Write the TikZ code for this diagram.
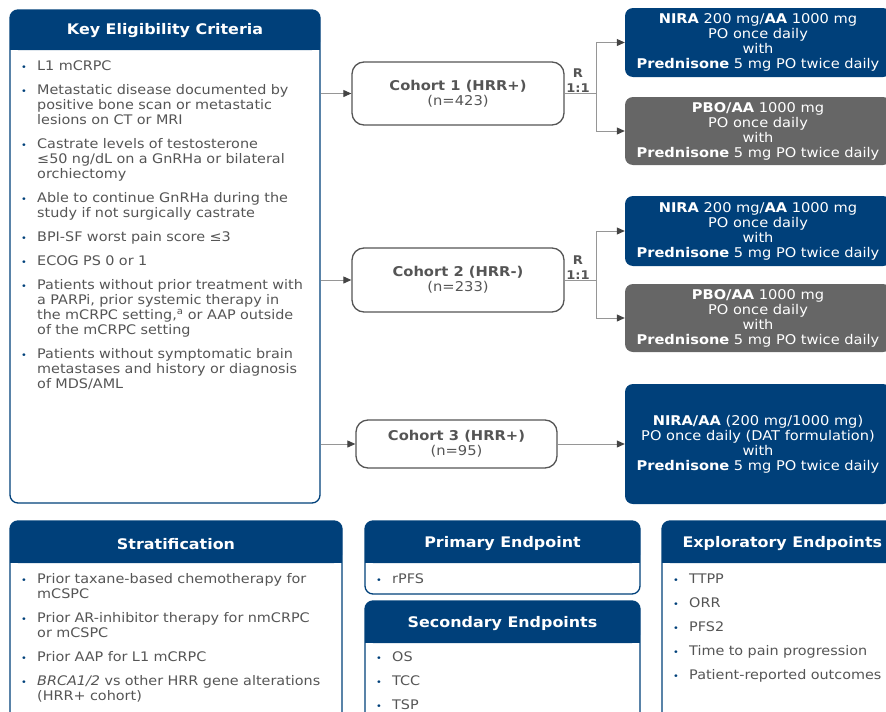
\documentclass[tikz,border=0pt]{standalone}
\usepackage{fontspec}
\setmainfont{DejaVu Sans}[FakeStretch=1.09]
\usetikzlibrary{arrows.meta,positioning}
\definecolor{navy}{RGB}{0,64,122}
\definecolor{slate}{RGB}{102,102,102}
\definecolor{ink}{RGB}{85,85,85}
\definecolor{wire}{RGB}{150,150,150}
\newcommand{\bitem}[1]{\par\hangindent=16pt\hangafter=1\noindent\makebox[16pt][l]{\textcolor{navy}{\small\textbullet}}#1\par}
\begin{document}
\begin{tikzpicture}[x=1pt,y=-1pt,
    panel/.style={draw=navy,line width=1.3pt,rounded corners=8pt},
    head/.style={text=white,font=\fontsize{14.6}{16}\selectfont\bfseries},
    body/.style={anchor=north west,inner sep=0pt,text=ink,text width=300pt,align=left,
      font=\fontsize{13.2}{15}\selectfont\setlength{\parskip}{9pt}},
    cohort/.style={draw=ink,line width=1.3pt,rounded corners=12pt,text=ink,align=center,
      font=\fontsize{13.5}{15}\selectfont},
    arm/.style={fill=#1,rounded corners=8pt,text=white,align=center,minimum width=266pt,
      font=\fontsize{13.4}{15}\selectfont},
    link/.style={draw=wire,line width=1pt},
    tip/.style={-{Triangle[length=8pt,width=7pt,fill=ink!80!black,color=ink!80!black]}}]
  \useasboundingbox (0,0) rectangle (886,712);
  \clip (0,0) rectangle (886,712);

  % eligibility panel
  \fill[navy,rounded corners=8pt] (10,10) rectangle (320,50);
  \fill[navy] (10,25) rectangle (320,50);
  \node[panel,minimum width=310pt,minimum height=493pt] (key) at (165,256.5) {};
  \node[head] (keyhead) at (165,31) {Key Eligibility Criteria};
  \node[body] (keylist) at (21,46) {%
    \bitem{L1 mCRPC}
    \bitem{Metastatic disease documented by\newline positive bone scan or metastatic\newline lesions on CT or MRI}
    \bitem{Castrate levels of testosterone\newline ≤50 ng/dL on a GnRHa or bilateral\newline orchiectomy}
    \bitem{Able to continue GnRHa during the\newline study if not surgically castrate}
    \bitem{BPI-SF worst pain score ≤3}
    \bitem{ECOG PS 0 or 1}
    \bitem{Patients without prior treatment with\newline a PARPi, prior systemic therapy in\newline the mCRPC setting,\textsuperscript{a} or AAP outside\newline of the mCRPC setting}
    \bitem{Patients without symptomatic brain\newline metastases and history or diagnosis\newline of MDS/AML}};

  % cohorts
  \node[cohort,minimum width=212pt,minimum height=63pt] (c1) at (458,93.5)
    {\textbf{Cohort 1 (HRR+)}\\(n=423)};
  \node[cohort,minimum width=212pt,minimum height=64pt] (c2) at (458,280)
    {\textbf{Cohort 2 (HRR-)}\\(n=233)};
  \node[cohort,minimum width=201pt,minimum height=48pt] (c3) at (456.5,444)
    {\textbf{Cohort 3 (HRR+)}\\(n=95)};

  % treatment arms
  \node[arm=navy,minimum height=69pt] (nira1) at (758,42.5)
    {\textbf{NIRA} 200 mg/\textbf{AA} 1000 mg\\PO once daily\\with\\\textbf{Prednisone} 5 mg PO twice daily};
  \node[arm=slate,minimum height=68pt] (pbo1) at (758,131)
    {\textbf{PBO/AA} 1000 mg\\PO once daily\\with\\\textbf{Prednisone} 5 mg PO twice daily};
  \node[arm=navy,minimum height=70pt] (nira2) at (758,231)
    {\textbf{NIRA} 200 mg/\textbf{AA} 1000 mg\\PO once daily\\with\\\textbf{Prednisone} 5 mg PO twice daily};
  \node[arm=slate,minimum height=68pt] (pbo2) at (758,318)
    {\textbf{PBO/AA} 1000 mg\\PO once daily\\with\\\textbf{Prednisone} 5 mg PO twice daily};
  \node[arm=navy,minimum height=120pt] (nira3) at (758,444)
    {\textbf{NIRA/AA} (200 mg/1000 mg)\\PO once daily (DAT formulation)\\with\\\textbf{Prednisone} 5 mg PO twice daily};

  % randomisation
  \coordinate (r1) at (596,93.5);
  \coordinate (r2) at (596,280);
  \node[text=ink,font=\fontsize{12}{15}\selectfont\bfseries,align=center,anchor=south,inner sep=1pt]
    (lab1) at (578,94) {R\\1:1};
  \node[text=ink,font=\fontsize{12}{15}\selectfont\bfseries,align=center,anchor=south,inner sep=1pt]
    (lab2) at (578,281) {R\\1:1};

  \draw[link,tip] (key.east |- c1.west) -- (c1.west);
  \draw[link,tip] (key.east |- c2.west) -- (c2.west);
  \draw[link,tip] (key.east |- c3.west) -- (c3.west);
  \draw[link] (c1.east) -- (r1);
  \draw[link,tip] (r1) |- (nira1.west);
  \draw[link,tip] (r1) |- (pbo1.west);
  \draw[link] (c2.east) -- (r2);
  \draw[link,tip] (r2) |- (nira2.west);
  \draw[link,tip] (r2) |- (pbo2.west);
  \draw[link,tip] (c3.east) -- (nira3.west);

  % stratification
  \fill[navy,rounded corners=8pt] (10,521) rectangle (342,563);
  \fill[navy] (10,535) rectangle (342,563);
  \draw[panel] (10,521) rectangle (342,740);
  \node[head] (strathead) at (176,544) {Stratification};
  \node[body] (stratlist) at (21,559) {%
    \bitem{Prior taxane-based chemotherapy for\newline mCSPC}
    \bitem{Prior AR-inhibitor therapy for nmCRPC\newline or mCSPC}
    \bitem{Prior AAP for L1 mCRPC}
    \bitem{\textit{BRCA1/2} vs other HRR gene alterations\newline (HRR+ cohort)}};

  % primary endpoint
  \fill[navy,rounded corners=8pt] (365,521) rectangle (640,563);
  \fill[navy] (365,535) rectangle (640,563);
  \draw[panel] (365,521) rectangle (640,594);
  \node[head] (primhead) at (502.5,544) {Primary Endpoint};
  \node[body] (primlist) at (376,559) {\bitem{rPFS}};

  % secondary endpoints
  \fill[navy,rounded corners=8pt] (365,601) rectangle (640,643);
  \fill[navy] (365,615) rectangle (640,643);
  \draw[panel] (365,601) rectangle (640,740);
  \node[head] (sechead) at (502.5,624) {Secondary Endpoints};
  \node[body] (seclist) at (376,637) {%
    \bitem{OS}
    \bitem{TCC}
    \bitem{TSP}};

  % exploratory endpoints
  \fill[navy,rounded corners=8pt] (662,521) rectangle (900,563);
  \fill[navy] (662,535) rectangle (900,563);
  \draw[panel] (662,521) rectangle (900,740);
  \node[head,anchor=west] (exphead) at (679,544) {Exploratory Endpoints};
  \node[body] (explist) at (673,559) {%
    \bitem{TTPP}
    \bitem{ORR}
    \bitem{PFS2}
    \bitem{Time to pain progression}
    \bitem{Patient-reported outcomes}};
\end{tikzpicture}
\end{document}
